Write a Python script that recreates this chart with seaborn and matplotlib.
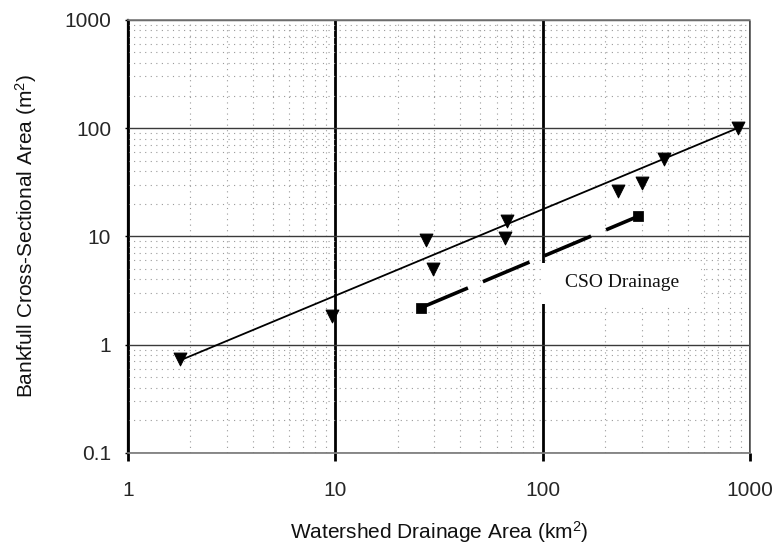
import matplotlib
matplotlib.use("Agg")
import matplotlib.pyplot as plt
from matplotlib.patches import Rectangle
import seaborn as sns
import pandas as pd
import numpy as np
from matplotlib.ticker import LogLocator, FixedLocator, FixedFormatter, NullFormatter

# Data
area_km2 = [1.78, 9.6, 27.5, 29.5, 67, 66, 230, 300, 385, 870]
xsec_m2 = [0.73, 1.85, 9.3, 5.0, 14.0, 9.6, 26, 31, 52, 100]

fit_x = [1.8, 870]
fit_y = [0.72, 100]

cso_x = [26, 288]
cso_y = [2.2, 15.3]

x_ticks = [1, 10, 100, 1000]
x_ticklabels = ["1", "10", "100", "1000"]
y_ticks = [0.1, 1, 10, 100, 1000]
y_ticklabels = ["0.1", "1", "10", "100", "1000"]

sns.set_theme(style="white")
plt.rcParams['font.family'] = ['Liberation Sans', 'DejaVu Sans']
plt.rcParams['mathtext.default'] = 'regular'

fig = plt.figure(figsize=(7.79, 5.51), dpi=100)
ax = fig.add_axes([0.164, 0.178, 0.799, 0.786])

ax.set_xscale('log')
ax.set_yscale('log')
ax.set_xlim(1, 1000)
ax.set_ylim(0.1, 1000)

# minor grid
ax.xaxis.set_minor_locator(LogLocator(base=10, subs=np.arange(2, 10)))
ax.yaxis.set_minor_locator(LogLocator(base=10, subs=np.arange(2, 10)))
ax.xaxis.set_minor_formatter(NullFormatter())
ax.yaxis.set_minor_formatter(NullFormatter())
ax.grid(which='minor', axis='both', color='#9a9a9a', linestyle=(0, (1, 4)), linewidth=0.8)
ax.grid(which='major', axis='y', color='#3a3a3a', linestyle='-', linewidth=1.0)
ax.grid(which='major', axis='x', color='black', linestyle='-', linewidth=2.0)
ax.set_axisbelow(True)

ax.xaxis.set_major_locator(FixedLocator(x_ticks))
ax.xaxis.set_major_formatter(FixedFormatter(x_ticklabels))
ax.yaxis.set_major_locator(FixedLocator(y_ticks))
ax.yaxis.set_major_formatter(FixedFormatter(y_ticklabels))
ax.tick_params(axis='x', which='major', direction='out', length=6, width=2, color='black',
               labelsize=15, pad=14, bottom=True)
ax.tick_params(axis='y', which='major', direction='out', length=2, width=1, color='black',
               labelsize=15, pad=10, left=True)
ax.tick_params(which='minor', length=0)

for s in ['top', 'bottom']:
    ax.spines[s].set_color('#777777')
    ax.spines[s].set_linestyle((0, (1, 1)))
    ax.spines[s].set_linewidth(1.2)
ax.spines['right'].set_color('#555555')
ax.spines['right'].set_linestyle((0, (1, 1)))
ax.spines['right'].set_linewidth(1.2)
ax.spines['left'].set_color('black')
ax.spines['left'].set_linewidth(1.6)

# white label background that interrupts the grid behind the annotation
ax.add_patch(Rectangle((98, 2.35), 580 - 98, 5.7 - 2.35, facecolor='white',
                       edgecolor='none', zorder=1.5))

df_fit = pd.DataFrame({'x': fit_x, 'y': fit_y})
sns.lineplot(data=df_fit, x='x', y='y', ax=ax, color='black', linewidth=1.3, zorder=3)

df_cso = pd.DataFrame({'x': cso_x, 'y': cso_y})
sns.lineplot(data=df_cso, x='x', y='y', ax=ax, color='black', linewidth=2.6,
             dashes=False, zorder=3)
ax.lines[-1].set_dashes([14, 4.5])
sns.scatterplot(data=df_cso, x='x', y='y', ax=ax, marker='s', s=45, color='black',
                edgecolor='black', zorder=4)

df_pts = pd.DataFrame({'x': area_km2, 'y': xsec_m2})
sns.scatterplot(data=df_pts, x='x', y='y', ax=ax, marker='v', s=85, color='black',
                edgecolor='black', zorder=4)

ax.text(240, 3.75, "CSO Drainage", family=['Liberation Serif', 'DejaVu Serif'], fontsize=14,
        ha='center', va='center', color='#111111', zorder=2)

ax.set_xlabel("Watershed Drainage Area (km$^2$)", fontsize=15, labelpad=14, color='#111111')
ax.set_ylabel("Bankfull Cross-Sectional Area (m$^2$)", fontsize=15, labelpad=18, color='#111111')

fig.savefig("out.png", dpi=100)
